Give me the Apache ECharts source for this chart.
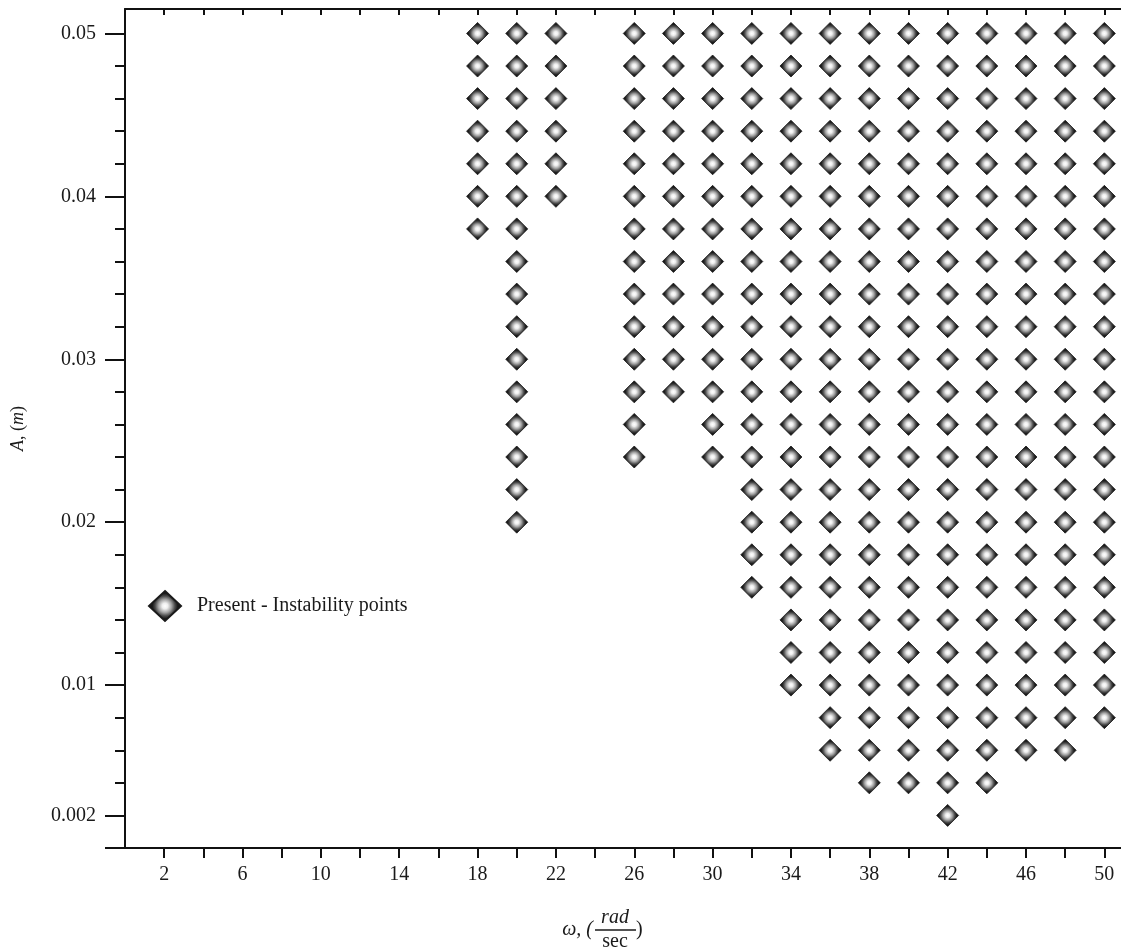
<!DOCTYPE html>
<html>
<head>
<meta charset="utf-8">
<script src="https://cdn.jsdelivr.net/npm/echarts@6/dist/echarts.min.js"></script>
<style>
  html, body { margin: 0; padding: 0; background: #fff; }
  #chart { width: 1121px; height: 951px; }
</style>
</head>
<body>
<div id="chart"></div>
<script>
// ---- Data ----
// Columns of omega (rad/sec) at which instability points exist
const omegaColumns = [18, 20, 22, 26, 28, 30, 32, 34, 36, 38, 40, 42, 44, 46, 48, 50];
// Lowest amplitude A (m) marked in each column (all grid rows up to the highest are marked)
const aLowest      = [0.038, 0.020, 0.040, 0.024, 0.028, 0.024, 0.016, 0.010, 0.006, 0.004, 0.004, 0.002, 0.004, 0.006, 0.006, 0.008];
// Highest amplitude marked in each column
const aHighest     = [0.05, 0.05, 0.05, 0.05, 0.05, 0.05, 0.05, 0.05, 0.05, 0.05, 0.05, 0.05, 0.05, 0.05, 0.05, 0.05];
// Amplitude grid rows used by the test
const aLevels = [0.002, 0.004, 0.006, 0.008, 0.010, 0.012, 0.014, 0.016, 0.018, 0.020,
                 0.022, 0.024, 0.026, 0.028, 0.030, 0.032, 0.034, 0.036, 0.038, 0.040,
                 0.042, 0.044, 0.046, 0.048, 0.050];

// Tick values / labels
const xTickValues  = [2, 4, 6, 8, 10, 12, 14, 16, 18, 20, 22, 24, 26, 28, 30, 32, 34, 36, 38, 40, 42, 44, 46, 48, 50];
const xLabelValues = [2, 6, 10, 14, 18, 22, 26, 30, 34, 38, 42, 46, 50];
const yMajorTicks  = [0, 0.002, 0.01, 0.02, 0.03, 0.04, 0.05];
const yLabelValues = [0.002, 0.01, 0.02, 0.03, 0.04, 0.05];
const yLabelTexts  = ['0.002', '0.01', '0.02', '0.03', '0.04', '0.05'];
const seriesName = 'Present - Instability points';

// Build points: every grid row between the lowest and highest marked amplitude of each column
const points = [];
omegaColumns.forEach((w, i) => {
  aLevels.forEach(a => {
    if (a >= aLowest[i] - 1e-9 && a <= aHighest[i] + 1e-9) points.push([w, a]);
  });
});

const FONT = '"Liberation Serif", "DejaVu Serif", serif';
const INK = '#111';

const diamondFill = {
  type: 'radial', x: 0.5, y: 0.5, r: 0.5,
  colorStops: [
    { offset: 0, color: '#ffffff' },
    { offset: 0.18, color: '#eeeeee' },
    { offset: 0.42, color: '#a0a0a0' },
    { offset: 0.62, color: '#4a4a4a' },
    { offset: 0.78, color: '#1c1c1c' },
    { offset: 1, color: '#111111' }
  ]
};

const chart = echarts.init(document.getElementById('chart'), null, { renderer: 'canvas' });

const option = {
  backgroundColor: '#ffffff',
  animation: false,
  grid: { left: 125, right: 0, top: 9, bottom: 103, containLabel: false, outerBoundsMode: 'none' },
  legend: {
    show: true,
    left: 148,
    top: 590,
    padding: 0,
    icon: 'diamond',
    itemWidth: 32,
    itemHeight: 30,
    data: [seriesName],
    textStyle: { fontFamily: FONT, fontSize: 20, color: '#1a1a1a', padding: [0, 0, 0, 11] }
  },
  xAxis: [
    {
      type: 'value', position: 'bottom', min: 0, max: 50.85,
      axisLine: { show: true, onZero: false, lineStyle: { color: INK, width: 2 } },
      axisTick: { show: true, inside: false, length: 10, lineStyle: { color: INK, width: 2 }, customValues: xTickValues },
      axisLabel: { show: true, margin: 17, fontFamily: FONT, fontSize: 20, color: '#1a1a1a', customValues: xLabelValues },
      splitLine: { show: false }
    },
    {
      type: 'value', position: 'top', min: 0, max: 50.85,
      axisLine: { show: true, onZero: false, lineStyle: { color: INK, width: 2 } },
      axisTick: { show: true, inside: true, length: 6, lineStyle: { color: INK, width: 2 }, customValues: xTickValues },
      axisLabel: { show: false },
      splitLine: { show: false }
    }
  ],
  yAxis: [
    {
      type: 'value', position: 'left', min: 0, max: 0.0515,
      name: '{i|A}, ({i|m})',
      nameLocation: 'middle',
      nameGap: 98,
      nameRotate: 90,
      nameTextStyle: {
        fontFamily: FONT, fontSize: 18, color: '#1a1a1a',
        rich: { i: { fontFamily: FONT, fontSize: 18, fontStyle: 'italic', color: '#1a1a1a' } }
      },
      axisLine: { show: true, onZero: false, lineStyle: { color: INK, width: 2 } },
      axisTick: { show: true, inside: false, length: 20, lineStyle: { color: INK, width: 2 }, customValues: yMajorTicks },
      axisLabel: {
        show: true, margin: 29, fontFamily: FONT, fontSize: 20, color: '#1a1a1a',
        customValues: yLabelValues,
        formatter: function (v) {
          for (let k = 0; k < yLabelValues.length; k++) {
            if (Math.abs(yLabelValues[k] - v) < 1e-9) return yLabelTexts[k];
          }
          return '';
        }
      },
      splitLine: { show: false }
    },
    {
      type: 'value', position: 'left', min: 0, max: 0.0515,
      axisLine: { show: false },
      axisTick: { show: true, inside: false, length: 10, lineStyle: { color: INK, width: 2 }, customValues: aLevels },
      axisLabel: { show: false },
      splitLine: { show: false }
    }
  ],
  graphic: [
    { type: 'text', x: 593, y: 930,
      style: { text: 'ω, (', font: 'italic 20px ' + FONT, fill: '#1a1a1a', align: 'right', verticalAlign: 'middle' } },
    { type: 'text', x: 615, y: 918,
      style: { text: 'rad', font: 'italic 20px ' + FONT, fill: '#1a1a1a', align: 'center', verticalAlign: 'middle' } },
    { type: 'line', shape: { x1: 595, y1: 930, x2: 636, y2: 930 },
      style: { stroke: '#1a1a1a', lineWidth: 1.5 } },
    { type: 'text', x: 615, y: 942,
      style: { text: 'sec', font: '20px ' + FONT, fill: '#1a1a1a', align: 'center', verticalAlign: 'middle' } },
    { type: 'text', x: 636, y: 930,
      style: { text: ')', font: '20px ' + FONT, fill: '#1a1a1a', align: 'left', verticalAlign: 'middle' } }
  ],
  series: [
    {
      name: seriesName,
      type: 'scatter',
      xAxisIndex: 0,
      yAxisIndex: 0,
      symbol: 'diamond',
      symbolSize: 22,
      itemStyle: { color: diamondFill, borderColor: '#1a1a1a', borderWidth: 0.8, opacity: 1 },
      emphasis: { disabled: true },
      data: points
    }
  ]
};

chart.setOption(option);
</script>
</body>
</html>
